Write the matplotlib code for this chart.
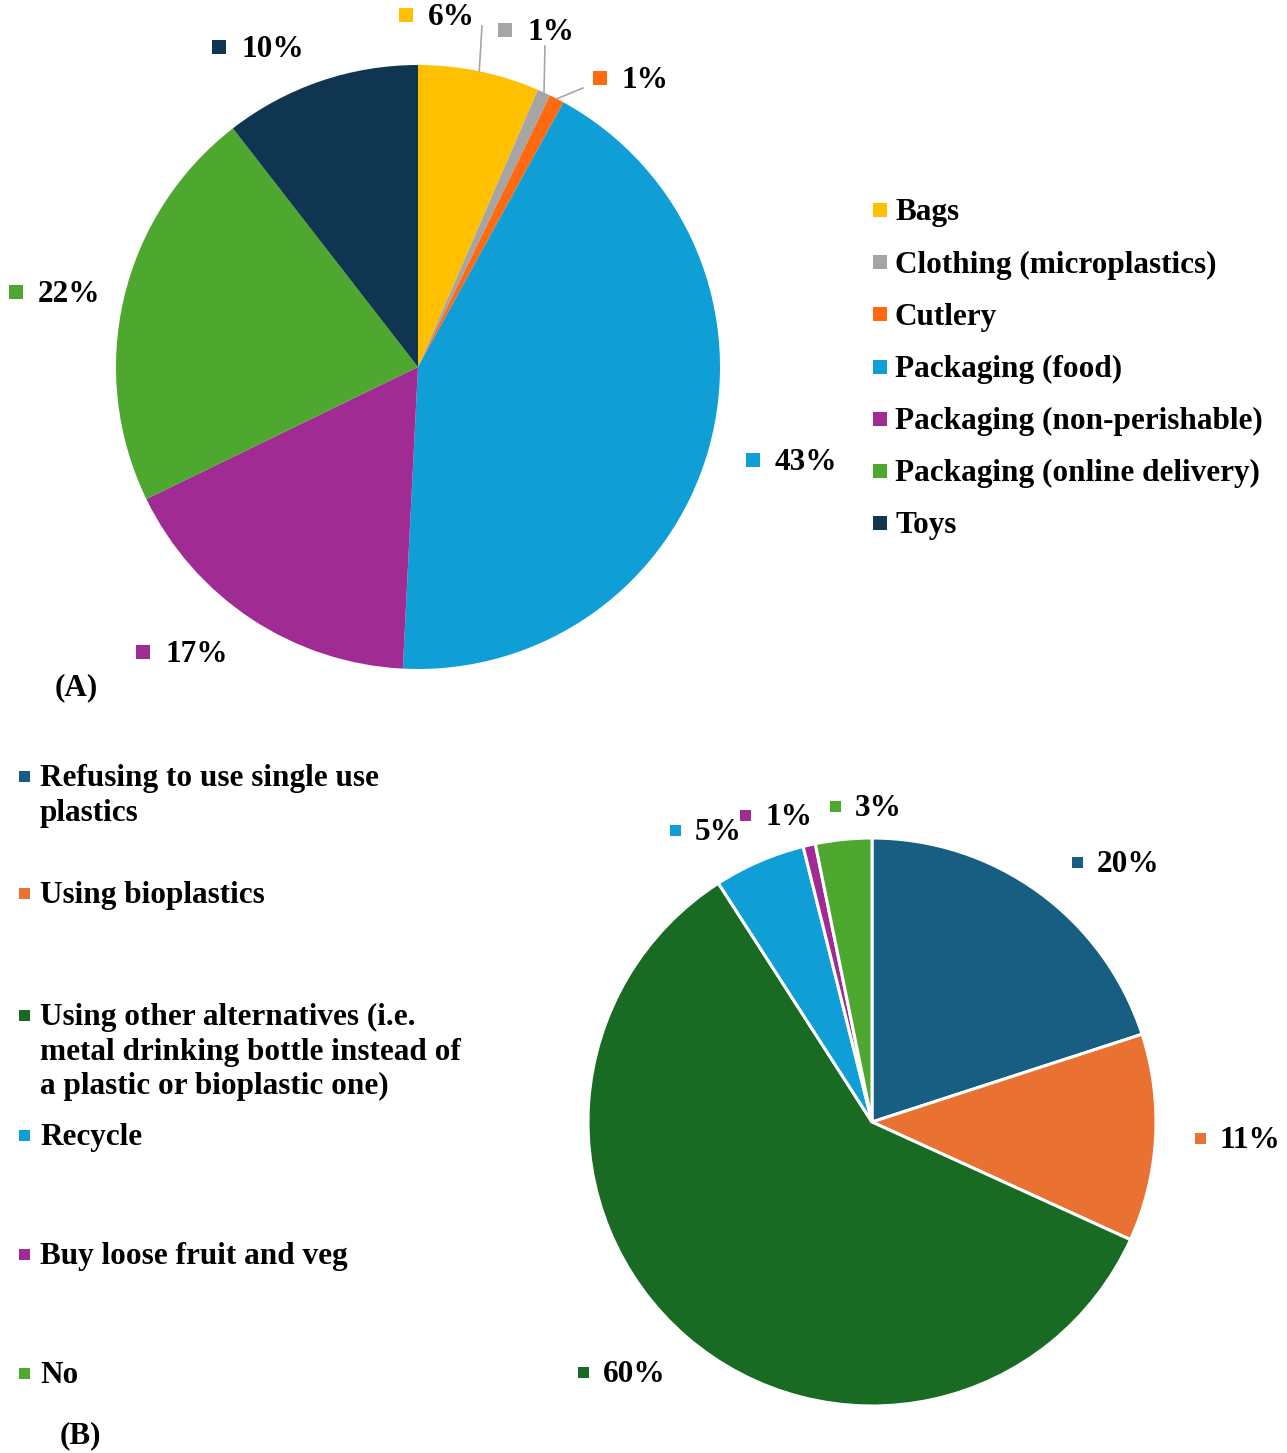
import matplotlib
matplotlib.use("Agg")
import matplotlib.pyplot as plt
from matplotlib.patches import Rectangle
import numpy as np

# ---- data -------------------------------------------------------------
items_a = ["Bags", "Clothing (microplastics)", "Cutlery", "Packaging (food)",
           "Packaging (non-perishable)", "Packaging (online delivery)", "Toys"]
share_a = [6.5, 0.7, 0.8, 42.8, 17.0, 21.7, 10.5]
text_a = ["6%", "1%", "1%", "43%", "17%", "22%", "10%"]
colors_a = ["#FFC000", "#A5A5A5", "#FF6A10", "#0F9ED5", "#A02B93", "#4EA72E", "#0F3550"]

items_b = ["Refusing to use single use\nplastics", "Using bioplastics",
           "Using other alternatives (i.e.\nmetal drinking bottle instead of\na plastic or bioplastic one)",
           "Recycle", "Buy loose fruit and veg", "No"]
share_b = [20.0, 11.8, 59.1, 5.2, 0.7, 3.2]
text_b = ["20%", "11%", "60%", "5%", "1%", "3%"]
colors_b = ["#175E82", "#E97132", "#196B24", "#0F9ED5", "#A02B93", "#4EA72E"]

# ---- layout (pixel positions, y measured from top) -------------------
W, H = 1287, 1453
FONT = ["Liberation Serif", "DejaVu Serif"]
FS = 22.5

center_a, radius_a = (418, 367), 302
center_b, radius_b = (872, 1122), 284

# text left edge / vertical centre of each percentage label
lab_a = [(428, 15), (527, 30), (622, 78), (775, 460), (165, 652), (38, 292), (241, 47)]
lab_b = [(1097, 862), (1220, 1138), (603, 1372), (695, 830), (765, 815), (855, 806)]
# end points of leader lines for the thin slices of pie A
leader_a = {0: (482, 26), 1: (545, 46), 2: (583, 88)}

leg_a_x, leg_a_y, leg_a_step = 895, 210, 52.2
leg_b_x = 40
leg_b_y = [776, 893, 1015, 1135, 1254, 1373]
leg_b_line = 34.5


def py(y):
    return H - y


fig = plt.figure(figsize=(W / 100, H / 100), dpi=100)
ax = fig.add_axes([0, 0, 1, 1])


def txt(x, y, s, **kw):
    # y is the visual centre of the cap height
    ax.text(x, py(y + 10.3), s, fontsize=FS, fontweight="bold", family=FONT,
            va="baseline", ha="left", color="black", **kw)


def square(x, y, size, color):
    ax.add_patch(Rectangle((x - size / 2, py(y) - size / 2), size, size,
                           facecolor=color, edgecolor="none"))


# ---- pie A -------------------------------------------------------------
wedges_a, _ = ax.pie(share_a, colors=colors_a, startangle=90, counterclock=False,
                     center=(center_a[0], py(center_a[1])), radius=radius_a,
                     wedgeprops=dict(linewidth=0))

for i, (w, s) in enumerate(zip(wedges_a, text_a)):
    x, y = lab_a[i]
    square(x - 22, y, 14, colors_a[i])
    txt(x, y, s)
    if i in leader_a:
        ang = np.deg2rad((w.theta1 + w.theta2) / 2)
        sx = center_a[0] + radius_a * np.cos(ang)
        sy = py(center_a[1]) + radius_a * np.sin(ang)
        ex, ey = leader_a[i]
        ax.plot([sx, ex], [sy, py(ey)], color="#A6A6A6", lw=1.2)

for i, name in enumerate(items_a):
    y = leg_a_y + i * leg_a_step
    square(leg_a_x - 15, y, 14, colors_a[i])
    txt(leg_a_x, y, name)

txt(55, 685, "(A)")

# ---- pie B -------------------------------------------------------------
wedges_b, _ = ax.pie(share_b, colors=colors_b, startangle=90, counterclock=False,
                     center=(center_b[0], py(center_b[1])), radius=radius_b,
                     wedgeprops=dict(edgecolor="white", linewidth=2.2))

for i, s in enumerate(text_b):
    x, y = lab_b[i]
    square(x - 20, y, 11, colors_b[i])
    txt(x, y, s)

for i, name in enumerate(items_b):
    y0 = leg_b_y[i]
    square(leg_b_x - 16, y0, 11, colors_b[i])
    for k, line in enumerate(name.split("\n")):
        txt(leg_b_x, y0 + k * leg_b_line, line)

txt(60, 1433, "(B)")

ax.set_xlim(0, W)
ax.set_ylim(0, H)
ax.set_aspect("equal")
ax.axis("off")

fig.savefig("out.png", dpi=100, facecolor="white")
